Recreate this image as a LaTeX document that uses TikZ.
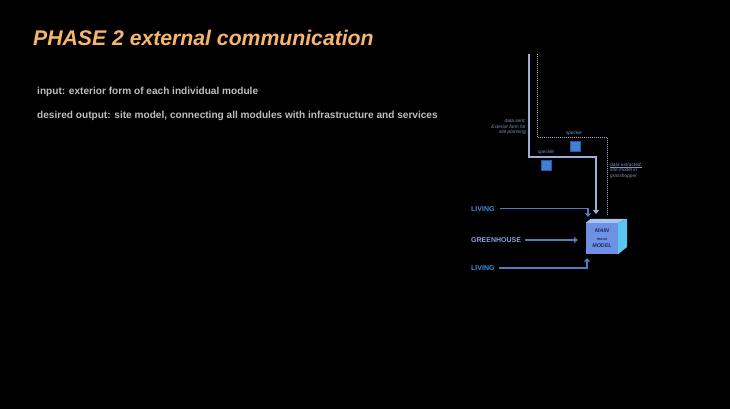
\documentclass[tikz,border=0pt]{standalone}
\usepackage{fontspec}
\setmainfont{Liberation Sans}
\usetikzlibrary{arrows.meta}
\definecolor{titleor}{HTML}{F7B56E}
\definecolor{bodygray}{HTML}{BDBDBD}
\definecolor{pipe}{HTML}{9AB0D6}
\definecolor{livblue}{HTML}{3F8DDD}
\definecolor{ghblue}{HTML}{7DA6DC}
\definecolor{arrblue}{HTML}{4E7EC2}
\definecolor{smalltxt}{HTML}{7F93BA}
\definecolor{cubefront}{HTML}{6F91E4}
\definecolor{cubetop}{HTML}{A8C4F4}
\definecolor{cuberight}{HTML}{5AC6F2}
\definecolor{cubetxt}{HTML}{1C2B66}
\definecolor{smallcube}{HTML}{3E80DA}
\tikzset{
  x=1pt, y=-1pt,
  titletxt/.style={anchor=base west, inner sep=0pt, text=titleor, font=\fontsize{21.2}{24}\selectfont\bfseries\itshape},
  bodytxt/.style={anchor=base west, inner sep=0pt, text=bodygray, font=\fontsize{10.1}{12}\selectfont\bfseries},
  tagtxt/.style={anchor=west, inner sep=0pt, font=\fontsize{7}{8}\selectfont\bfseries},
  smalllbl/.style={inner sep=0pt, text=smalltxt, font=\fontsize{4.8}{5.6}\selectfont\itshape},
  pipeline/.style={draw=pipe, line width=1.3pt},
  pipedots/.style={draw=pipe, line width=1pt, dash pattern=on 0.8pt off 1.2pt},
  feed/.style={draw=arrblue, line width=1.1pt, -{Straight Barb[length=3pt,width=5pt]}},
  mini/.style={fill=smallcube, draw=smallcube!70!black, line width=0.3pt, minimum size=10pt, inner sep=0pt},
}
\begin{document}
\begin{tikzpicture}
\fill[black] (0,0) rectangle (730,409);
\useasboundingbox (0,0) rectangle (730,409);

% texts
\node[titletxt] (title) at (33,46) {PHASE 2 external communication};
\node[bodytxt] (input) at (37,94.5) {input: exterior form of each individual module};
\node[bodytxt] (output) at (37,118.5) {desired output: site model, connecting all modules with infrastructure and services};

% cube
\node[fill=cubefront, minimum width=32pt, minimum height=31pt, inner sep=0pt] (cube) at (602,238.5) {};
\fill[cubetop] (cube.north west) -- ++(5,-4) -- ++(36,0) -- (cube.north east) -- cycle;
\fill[cuberight] (cube.north east) -- ++(9,-4) -- ++(0,28) -- (cube.south east) -- cycle;
\node[inner sep=0pt, align=center, text=cubetxt, font=\fontsize{5.4}{7.5}\selectfont\bfseries\itshape] (cubelbl) at (cube.center) {MAIN\\{\fontsize{3.8}{7.5}\selectfont moon}\\MODEL};

% pipes
\coordinate (s0) at (529,54);
\coordinate (s1) at (529,157);
\coordinate (s2) at (596,157);
\coordinate (s3) at (596,214);
\draw[pipeline, -{Straight Barb[length=3pt,width=5pt]}] (s0) -- (s1) -- (s2) -- (s3);
\coordinate (d0) at (537,54);
\coordinate (d1) at (537,137);
\coordinate (d2) at (607,137);
\coordinate (d3) at (607,216);
\draw[pipedots] (d0) -- (d1) -- (d2) -- (d3);

% small cubes
\node[mini] (sc1) at (575.5,146) {};
\node[mini] (sc2) at (546.5,165) {};
\node[smalllbl] (spk1) at (574,133) {speckle};
\node[smalllbl] (spk2) at (546,152.5) {speckle};

\node[smalllbl, anchor=north east, align=right] (sent) at (526,119) {data sent:\\Exterior form for\\site planning};
\node[smalllbl, anchor=north west, align=left] (extr) at (610,162.5) {\underline{data extracted:}\\site model in\\grasshopper};

% inputs
\node[tagtxt, text=livblue] (liv1) at (471,209) {LIVING};
\node[tagtxt, text=ghblue] (gh) at (471,240) {GREENHOUSE};
\node[tagtxt, text=livblue] (liv2) at (471,268) {LIVING};

\coordinate (l1a) at (588,208.5);
\coordinate (l1b) at (588,217);
\draw[feed] ([xshift=5pt]liv1.east |- l1a) -- (l1a) -- (l1b);
\draw[feed] ([xshift=4pt]gh.east) -- ([xshift=-8pt]cube.west |- gh.east);
\coordinate (l2a) at (587,268);
\coordinate (l2b) at (587,258);
\draw[feed] ([xshift=4pt]liv2.east |- l2a) -- (l2a) -- (l2b);
\end{tikzpicture}
\end{document}
